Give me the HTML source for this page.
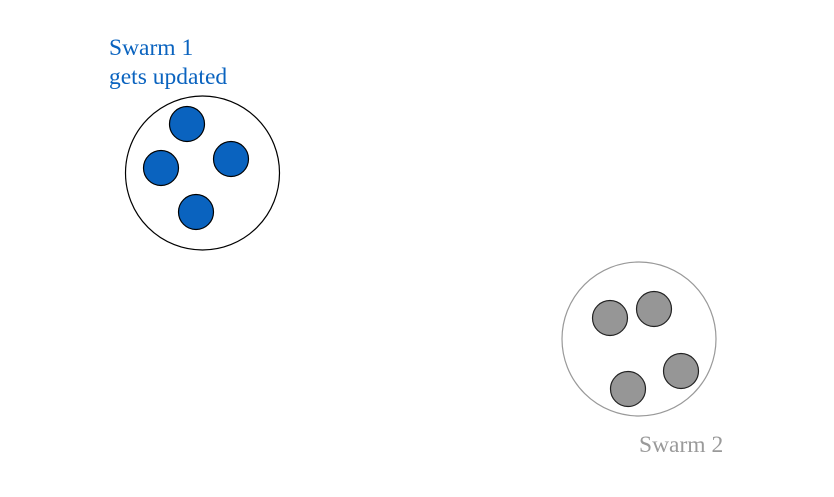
<!DOCTYPE html>
<html><head><meta charset="utf-8"><style>html,body{margin:0;padding:0;background:#fff}</style></head>
<body>
<svg width="834" height="492" viewBox="0 0 834 492" xmlns="http://www.w3.org/2000/svg">
<g font-family="Liberation Serif, serif" font-size="23.5">
<text x="109" y="55" fill="#0a63bf">Swarm 1</text>
<text x="109" y="84" fill="#0a63bf">gets updated</text>
<text x="639" y="452" fill="#9a9a9a">Swarm 2</text>
</g>
<circle cx="202.5" cy="173" r="77" fill="#fff" stroke="#000" stroke-width="1.2"/>
<g fill="#0a63bf" stroke="#000" stroke-width="1.2">
<circle cx="187" cy="124" r="17.5"/>
<circle cx="161" cy="168" r="17.5"/>
<circle cx="231" cy="159" r="17.5"/>
<circle cx="196" cy="212" r="17.5"/>
</g>
<circle cx="639" cy="339" r="77" fill="#fff" stroke="#999" stroke-width="1.2"/>
<g fill="#969696" stroke="#222" stroke-width="1.2">
<circle cx="610" cy="318" r="17.5"/>
<circle cx="654" cy="309" r="17.5"/>
<circle cx="681" cy="371" r="17.5"/>
<circle cx="628" cy="389" r="17.5"/>
</g>
</svg>
</body></html>
